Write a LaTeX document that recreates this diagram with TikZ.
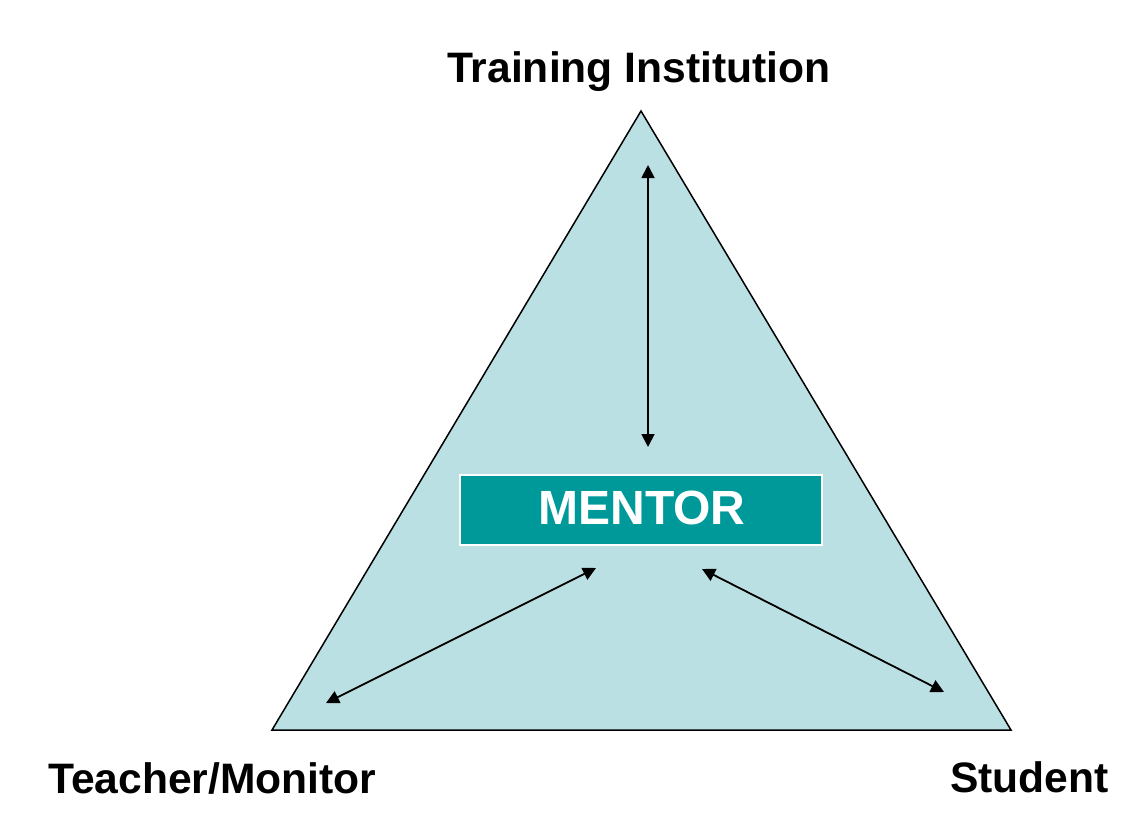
\documentclass[tikz,border=0pt]{standalone}
\usepackage{fontspec}
\setmainfont{Liberation Sans}
\usetikzlibrary{arrows.meta}
\definecolor{trifill}{HTML}{BBE0E3}
\definecolor{mentorfill}{HTML}{009999}
\tikzset{
  lbl/.style={anchor=base west,inner sep=0pt,font=\fontsize{42.6}{46}\selectfont\bfseries},
  link/.style={line width=1.8pt,{Triangle[length=13pt,width=13pt]}-{Triangle[length=13pt,width=13pt]}}
}
\begin{document}
\begin{tikzpicture}[x=1pt,y=-1pt]
\useasboundingbox (0,0) rectangle (1129,819);
\coordinate (apex) at (641,111);
\coordinate (bl) at (272,730);
\coordinate (br) at (1011,730);
\fill[trifill] (apex) -- (bl) -- (br) -- cycle;
\draw[line width=1.5pt,line join=miter] (apex) -- (bl) -- (br) -- cycle;
\node[draw=white,fill=mentorfill,line width=2.5pt,minimum width=362pt,minimum height=70pt,inner sep=0pt] (mentor) at (641,510) {};
\node[anchor=base,inner sep=0pt,text=white,font=\fontsize{48}{50}\selectfont\bfseries] (mtext) at (642,524) {MENTOR};
\node[lbl] (ti) at (447,82) {Training Institution};
\node[lbl] (tm) at (48,793) {Teacher/Monitor};
\node[lbl] (st) at (950,792) {Student};
\coordinate (a1) at (648,165);
\coordinate (a2) at (648,447);
\coordinate (b1) at (326,703);
\coordinate (b2) at (596,568);
\coordinate (c1) at (702,569);
\coordinate (c2) at (944,692);
\draw[link] (a1) -- (a2);
\draw[link] (b1) -- (b2);
\draw[link] (c1) -- (c2);
\end{tikzpicture}
\end{document}
